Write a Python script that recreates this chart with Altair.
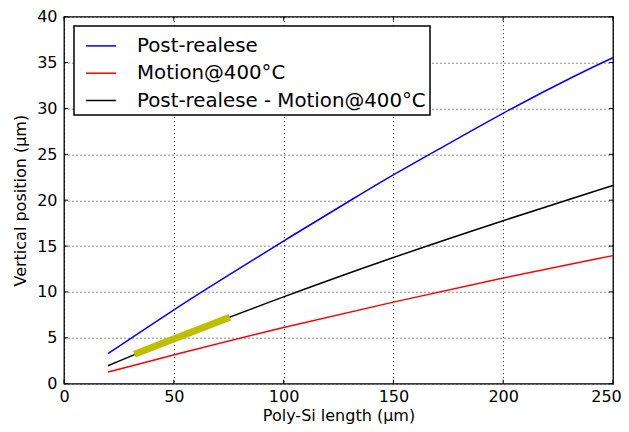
import altair as alt
import pandas as pd

# ---- data ----
blue_length = [20, 50, 67, 100, 135, 150, 167, 200, 235, 250]
post_release = [3.27, 8.07, 10.64, 15.58, 20.64, 22.8, 25.05, 29.56, 33.87, 35.53]

length = [20, 50, 100, 150, 200, 250]
motion_400 = [1.27, 3.16, 6.18, 8.9, 11.56, 13.96]
difference = [1.96, 4.95, 9.5, 13.8, 17.8, 21.6]

fit_length = [33.5, 74]
fit_position = [3.35, 7.1]

series_names = ["Post-realese", "Motion@400°C", "Post-realese - Motion@400°C"]
series_colors = ["#0000ff", "#ff0000", "#000000"]

x_ticks = [0, 50, 100, 150, 200, 250]
y_ticks = [0, 5, 10, 15, 20, 25, 30, 35, 40]

W, H = 549, 367
FONT = "DejaVu Sans"

rows = []
for name, xs, vals in zip(series_names,
                          [blue_length, length, length],
                          [post_release, motion_400, difference]):
    for xv, yv in zip(xs, vals):
        rows.append({"length": xv, "position": yv, "series": name})
df = pd.DataFrame(rows)
df_fit = pd.DataFrame({"length": fit_length, "position": fit_position})
df_xt = pd.DataFrame({"t": x_ticks})
df_yt = pd.DataFrame({"t": y_ticks})

xscale = alt.Scale(domain=[0, 250], nice=False, zero=False)
yscale = alt.Scale(domain=[0, 40], nice=False, zero=False)

xaxis = alt.Axis(values=x_ticks, title="Poly-Si length (μm)", grid=True,
                 ticks=False, domain=False, labelPadding=5,
                 labelOffset={"condition": {"test": "datum.value == 250", "value": -7},
                              "value": 0},
                 titleBaseline="alphabetic", titleY=36.3, labelFlush=False)
yaxis = alt.Axis(values=y_ticks, title="Vertical position (μm)", grid=True,
                 ticks=False, domain=False, labelPadding=7, titlePadding=8)

lines = alt.Chart(df).mark_line(strokeWidth=1.5, interpolate="basis").encode(
    x=alt.X("length:Q", scale=xscale, axis=xaxis),
    y=alt.Y("position:Q", scale=yscale, axis=yaxis),
    color=alt.Color("series:N",
                    scale=alt.Scale(domain=series_names, range=series_colors),
                    sort=series_names,
                    legend=alt.Legend(title=None, orient="none",
                                      legendX=10, legendY=9.2)),
    order=alt.Order("length:Q"),
)

fit = alt.Chart(df_fit).mark_line(strokeWidth=7, color="#bfbf00",
                                  strokeCap="square").encode(
    x=alt.X("length:Q", scale=xscale),
    y=alt.Y("position:Q", scale=yscale),
)

tick_x_bottom = alt.Chart(df_xt).mark_rule(color="black", strokeWidth=1).encode(
    x=alt.X("t:Q", scale=xscale), y=alt.value(H), y2=alt.value(H - 4))
tick_x_top = alt.Chart(df_xt).mark_rule(color="black", strokeWidth=1).encode(
    x=alt.X("t:Q", scale=xscale), y=alt.value(0), y2=alt.value(4))
tick_y_left = alt.Chart(df_yt).mark_rule(color="black", strokeWidth=1).encode(
    y=alt.Y("t:Q", scale=yscale), x=alt.value(0), x2=alt.value(4))
tick_y_right = alt.Chart(df_yt).mark_rule(color="black", strokeWidth=1).encode(
    y=alt.Y("t:Q", scale=yscale), x=alt.value(W), x2=alt.value(W - 4))

chart = alt.layer(
    tick_x_bottom, tick_x_top, tick_y_left, tick_y_right, lines, fit
).properties(
    width=W, height=H,
    autosize=alt.AutoSizeParams(type="none"),
    padding={"left": 56, "top": 8.7, "right": 8, "bottom": 40.3},
).configure_view(
    stroke="black", strokeWidth=1.3
).configure_axis(
    labelFont=FONT, titleFont=FONT, labelFontSize=16, titleFontSize=16,
    titleFontWeight="normal", labelColor="black", titleColor="black",
    gridColor="black", gridDash=[1, 3], gridWidth=0.9, gridOpacity=1,
).configure_legend(
    labelFont=FONT, labelFontSize=19.8, labelColor="black",
    fillColor="white", strokeColor="black", strokeWidth=1.5,
    padding=4, symbolOffset=7, symbolType="stroke", symbolSize=900,
    symbolStrokeWidth=1.5, labelOffset=20, rowPadding=1.3, cornerRadius=0,
    labelLimit=400,
)

chart.save("out.html", embed_options={"renderer": "svg", "actions": False})
